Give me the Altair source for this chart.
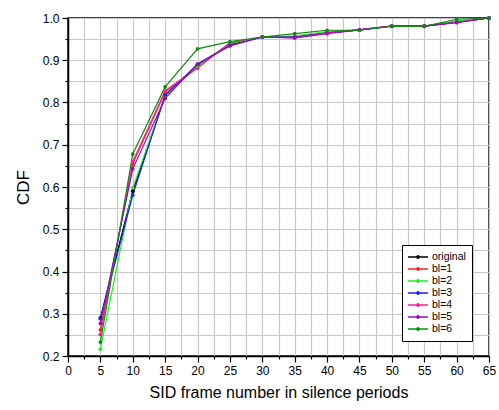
import altair as alt
import pandas as pd

x_vals = [5, 10, 15, 20, 25, 30, 35, 40, 45, 50, 55, 60, 65]
series_names = ["original", "bl=1", "bl=2", "bl=3", "bl=4", "bl=5", "bl=6"]
original = [0.290, 0.590, 0.815, 0.890, 0.937, 0.955, 0.955, 0.965, 0.972, 0.981, 0.981, 0.990, 1.0]
bl1 = [0.262, 0.655, 0.825, 0.885, 0.940, 0.955, 0.955, 0.965, 0.972, 0.981, 0.981, 0.990, 1.0]
bl2 = [0.216, 0.598, 0.815, 0.885, 0.940, 0.955, 0.958, 0.968, 0.972, 0.981, 0.981, 0.993, 1.0]
bl3 = [0.288, 0.581, 0.818, 0.890, 0.935, 0.955, 0.955, 0.965, 0.972, 0.981, 0.981, 0.990, 1.0]
bl4 = [0.251, 0.660, 0.828, 0.881, 0.942, 0.955, 0.953, 0.965, 0.972, 0.981, 0.981, 0.990, 1.0]
bl5 = [0.277, 0.643, 0.810, 0.891, 0.934, 0.955, 0.953, 0.963, 0.972, 0.981, 0.981, 0.989, 1.0]
bl6 = [0.233, 0.678, 0.837, 0.927, 0.944, 0.955, 0.963, 0.971, 0.971, 0.980, 0.980, 0.997, 1.0]
colors = ["#000000", "#ff2020", "#20ee20", "#2020ff", "#ff2090", "#8a10c0", "#108a10"]

all_series = [original, bl1, bl2, bl3, bl4, bl5, bl6]
rows = []
for i, (name, vals) in enumerate(zip(series_names, all_series)):
    for xv, yv in zip(x_vals, vals):
        rows.append({"x": xv, "y": yv, "series": name, "k": i})
df = pd.DataFrame(rows)

x_ticks = [i * 2.5 for i in range(27)]
y_ticks = [round(0.2 + i * 0.05, 2) for i in range(17)]

font = "Liberation Sans"
legend_symbol = "M-2,0L2,0M-0.25,0A0.25,0.25 0 1,1 0.25,0A0.25,0.25 0 1,1 -0.25,0"

chart = alt.Chart(df).mark_line(
    strokeWidth=1.2,
    point=alt.OverlayMarkDef(filled=True, size=14),
).encode(
    x=alt.X("x:Q", scale=alt.Scale(domain=[0, 65], nice=False),
            axis=alt.Axis(values=x_ticks, title="SID frame number in silence periods",
                          labelExpr="datum.value % 5 == 0 ? datum.label : ''",
                          tickSize={"condition": {"test": "datum.value % 5 != 0", "value": 3}, "value": 6},
                          grid=True, gridColor="#c8c8c8", gridWidth=1.2,
                          domainColor="black", domainWidth=1.5, tickColor="black", tickWidth=1.2,
                          labelFont=font, labelFontSize=12, labelColor="black", labelPadding=3,
                          titleFont=font, titleFontSize=16, titleFontWeight="normal",
                          titleColor="black", titlePadding=8, labelFlush=False)),
    y=alt.Y("y:Q", scale=alt.Scale(domain=[0.2, 1.0], nice=False, zero=False),
            axis=alt.Axis(values=y_ticks, title="CDF",
                          labelExpr="abs(datum.value*10 - round(datum.value*10)) < 0.001 ? format(datum.value, '.1f') : ''",
                          tickSize={"condition": {"test": "abs(datum.value*10 - round(datum.value*10)) > 0.001", "value": 3}, "value": 6},
                          grid=True, gridColor="#c8c8c8", gridWidth=1.2,
                          domainColor="black", domainWidth=1.5, tickColor="black", tickWidth=1.2,
                          labelFont=font, labelFontSize=12, labelColor="black", labelPadding=3,
                          titleFont=font, titleFontSize=17, titleFontWeight="normal",
                          titleColor="black", titlePadding=10, labelFlush=False)),
    color=alt.Color("series:N", scale=alt.Scale(domain=series_names, range=colors),
                    sort=series_names,
                    legend=alt.Legend(title=None, orient="none", legendX=334, legendY=227,
                                      symbolType=legend_symbol, symbolSize=100, symbolStrokeWidth=1.3,
                                      symbolFillColor="transparent",
                                      labelFont=font, labelFontSize=10.5, labelColor="black",
                                      rowPadding=0, padding=6, strokeColor="black",
                                      fillColor="white", symbolOffset=4, labelOffset=8)),
    order=alt.Order("k:Q"),
).properties(
    width=421, height=338,
    autosize=alt.AutoSizeParams(type="none"),
    padding={"left": 68, "top": 18, "right": 10, "bottom": 54},
).configure_view(stroke="black", strokeWidth=1.5)

chart.save("out.html", embed_options={"renderer": "svg", "actions": False})
